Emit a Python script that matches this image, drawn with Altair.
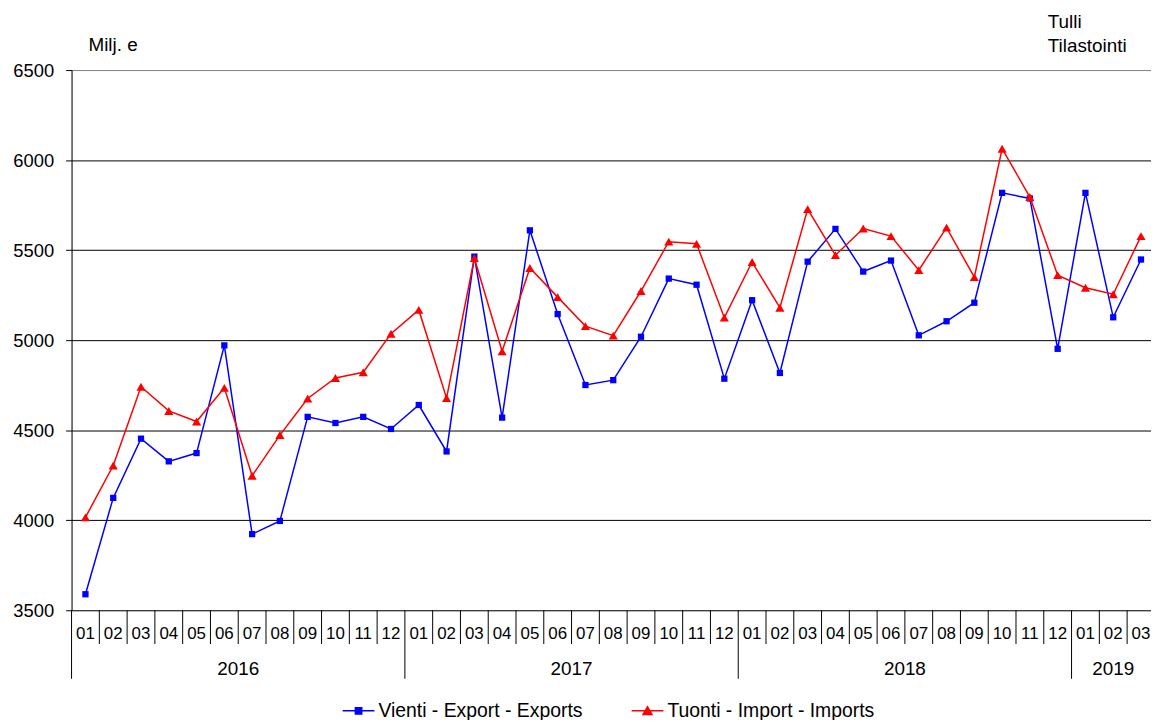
import altair as alt
import pandas as pd

# ---- data ----
months = ["01", "02", "03", "04", "05", "06", "07", "08", "09", "10", "11", "12",
          "01", "02", "03", "04", "05", "06", "07", "08", "09", "10", "11", "12",
          "01", "02", "03", "04", "05", "06", "07", "08", "09", "10", "11", "12",
          "01", "02", "03"]
years = ["2016"] * 12 + ["2017"] * 12 + ["2018"] * 12 + ["2019"] * 3

exports = [3589, 4124, 4453, 4327, 4373, 4971, 3923, 3996, 4574, 4540, 4574, 4507,
           4640, 4382, 5464, 4570, 5610, 5145, 4751, 4778, 5019, 5342, 5308, 4786,
           5222, 4818, 5436, 5618, 5381, 5442, 5027, 5105, 5208, 5818, 5787, 4952,
           5818, 5127, 5448]
imports = [4016, 4304, 4741, 4607, 4548, 4735, 4247, 4473, 4676, 4790, 4822, 5036,
           5168, 4678, 5456, 4938, 5401, 5239, 5078, 5025, 5273, 5547, 5535, 5125,
           5434, 5180, 5728, 5472, 5620, 5578, 5389, 5625, 5350, 6063, 5795, 5361,
           5291, 5255, 5578]

series_names = ["Vienti - Export - Exports", "Tuonti - Import - Imports"]
series_colors = ["#0000FF", "#FF0000"]
year_labels = ["2016", "2017", "2018", "2019"]
y_ticks = [3500, 4000, 4500, 5000, 5500, 6000, 6500]
unit_label = "Milj. e"
source_label = "Tulli\nTilastointi"

# ---- layout ----
W, H = 1087, 544
FONT = "Liberation Sans"
n = len(months)
xscale = alt.Scale(domain=[0, 38.86], nice=False, zero=False)
yscale = alt.Scale(domain=[3500, 6500], nice=False, zero=False)

y_axis = alt.Axis(
    values=y_ticks, grid=True, format="d",
    gridColor={"condition": {"test": "datum.value === 6500", "value": "#808080"}, "value": "#000000"},
    gridWidth=1, tickSize=6, tickColor="black", domainColor="black", domainWidth=1,
    labelFontSize=18.5, labelFont=FONT, labelColor="black", labelPadding=12, title=None,
)

pos = [i + 0.5 for i in range(n)]
long_df = pd.DataFrame({
    "pos": pos * 2,
    "value": exports + imports,
    "series": [series_names[0]] * n + [series_names[1]] * n,
})

X = alt.X("pos:Q", scale=xscale, axis=None)
Y = alt.Y("value:Q", scale=yscale, axis=y_axis)

layers = []
for name, color, shape, size in [(series_names[0], series_colors[0], "square", 40),
                                 (series_names[1], series_colors[1], "triangle-up", 84)]:
    sub = alt.Chart(long_df).transform_filter(alt.datum.series == name)
    layers.append(sub.mark_line(color=color, strokeWidth=1.5).encode(x=X, y=Y))
    layers.append(sub.mark_point(filled=True, shape=shape, size=size, color=color, opacity=1)
                  .encode(x=X, y=Y))

# month labels and separators
month_df = pd.DataFrame({"pos": pos, "month": months})
layers.append(alt.Chart(month_df).mark_text(fontSize=17, font=FONT, color="black",
                                             align="center", baseline="middle")
              .encode(x=X, y=alt.value(H + 24), text="month:N"))

year_starts = [years.index(y) for y in year_labels]
year_ends = year_starts[1:] + [n]
year_df = pd.DataFrame({"pos": [(s + e) / 2 for s, e in zip(year_starts, year_ends)],
                        "year": year_labels})
layers.append(alt.Chart(year_df).mark_text(fontSize=19, font=FONT, color="black",
                                            align="center", baseline="middle")
              .encode(x=X, y=alt.value(H + 59), text="year:N"))

msep_df = pd.DataFrame({"pos": [i for i in range(1, n) if i not in year_starts]})
layers.append(alt.Chart(msep_df).mark_rule(color="black", strokeWidth=1)
              .encode(x=X, y=alt.value(H), y2=alt.value(H + 34)))
ysep_df = pd.DataFrame({"pos": year_starts})
layers.append(alt.Chart(ysep_df).mark_rule(color="black", strokeWidth=1)
              .encode(x=X, y=alt.value(H), y2=alt.value(H + 69)))

# annotations
layers.append(alt.Chart(pd.DataFrame({"t": [unit_label]}))
              .mark_text(align="left", baseline="middle", fontSize=19, font=FONT, color="black")
              .encode(x=alt.value(17), y=alt.value(-25), text="t:N"))
layers.append(alt.Chart(pd.DataFrame({"t": [source_label]}))
              .mark_text(align="left", baseline="top", fontSize=19, font=FONT, color="black",
                         lineBreak="\n", lineHeight=23.5)
              .encode(x=alt.value(983), y=alt.value(-57), text="t:N"))

# legend (line + marker symbols)
square_path = "M-1,0H1M-0.2,-0.2H0.2V0.2H-0.2Z"
tri_path = "M-1,0H1M0,-0.25L0.28,0.23H-0.28Z"
legend = alt.Legend(title=None, orient="none", legendX=272, legendY=628,
                    direction="horizontal", columns=2, symbolSize=1024,
                    symbolStrokeWidth=1.5, symbolOpacity=1, labelFontSize=19.5,
                    labelFont=FONT, labelColor="black", labelOffset=3, labelLimit=0,
                    columnPadding=46, padding=0)
layers.append(alt.Chart(pd.DataFrame({"series": series_names}))
              .transform_filter("false")
              .mark_point(strokeWidth=1.5, opacity=1)
              .encode(
                  x=X,
                  shape=alt.Shape("series:N", scale=alt.Scale(domain=series_names,
                                                              range=[square_path, tri_path]),
                                  legend=legend),
                  fill=alt.Fill("series:N", scale=alt.Scale(domain=series_names,
                                                            range=series_colors), legend=legend),
                  stroke=alt.Stroke("series:N", scale=alt.Scale(domain=series_names,
                                                                range=series_colors), legend=legend),
              ))

chart = (alt.layer(*layers)
         .properties(width=W, height=H,
                     padding={"left": 64, "top": 60, "right": 0, "bottom": 108},
                     autosize=alt.AutoSizeParams(type="none"))
         .configure_view(strokeWidth=0)
         .configure(background="white", font=FONT))

chart.save("out.html", embed_options={"renderer": "svg", "actions": False})
